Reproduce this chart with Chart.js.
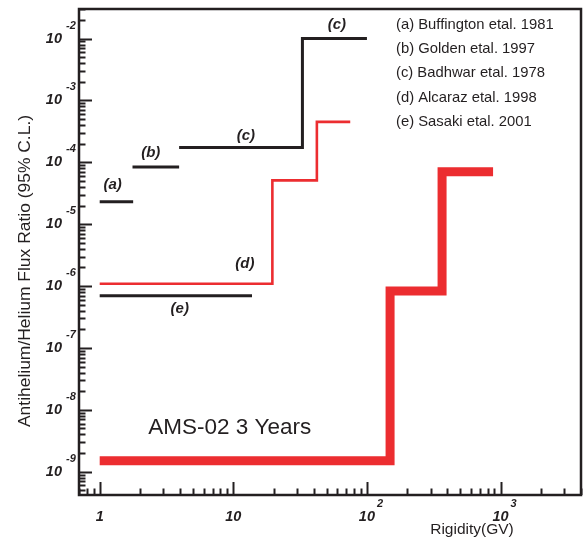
<!DOCTYPE html>
<html>
<head>
<meta charset="utf-8">
<script src="https://cdn.jsdelivr.net/npm/chart.js@4"></script>
<style>
  html, body { margin: 0; padding: 0; background: #fff; }
  #wrap { width: 586px; height: 542px; }
</style>
</head>
<body>
<div id="wrap"><canvas id="myChart" width="586" height="542"></canvas></div>
<script>
// bin edges (GV) and upper limits for each measurement
var bufEdges = [1, 1.78];
var bufVals = [2.3e-5];
var goldenEdges = [1.76, 3.93];
var goldenVals = [8.4e-5];
var badhwarEdges = [3.93, 32.9, 100];
var badhwarVals = [1.73e-4, 1.0e-2];
var alcarazEdges = [1, 19.6, 42.2, 75];
var alcarazVals = [1.09e-6, 5.1e-5, 4.5e-4];
var sasakiEdges = [1, 13.8];
var sasakiVals = [7.0e-7];
var amsEdges = [1, 149, 365, 879];
var amsVals = [1.5e-9, 8.3e-7, 7.0e-5];

var legendLines = [
    '(a) Buffington etal. 1981',
    '(b) Golden etal. 1997',
    '(c) Badhwar etal. 1978',
    '(d) Alcaraz etal. 1998',
    '(e) Sasaki etal. 2001'
];

// tag labels placed in data space
var tagText = ['(a)', '(b)', '(c)', '(c)', '(d)', '(e)'];
var tagX = [1.25, 2.41, 12.4, 59.6, 12.2, 3.97];
var tagY = [4.3e-5, 1.4e-4, 2.7e-4, 1.68e-2, 2.3e-6, 4.3e-7];

var xTickVals = [1, 10, 100, 1000];
var xTickBase = ['1', '10', '10', '10'];
var xTickExp = ['', '', '2', '3'];
var yTickVals = [1e-2, 1e-3, 1e-4, 1e-5, 1e-6, 1e-7, 1e-8, 1e-9];
var yTickExp = ['-2', '-3', '-4', '-5', '-6', '-7', '-8', '-9'];

var black = '#231f20';
var red = '#ec2d30';
var sans = '"Liberation Sans", Arial, sans-serif';

function stepPoints(edges, vals) {
    var pts = [];
    for (var i = 0; i < vals.length; i++) {
        pts.push({x: edges[i], y: vals[i]});
        pts.push({x: edges[i + 1], y: vals[i]});
    }
    return pts;
}

function stepSet(edges, vals, color, width) {
    return {
        data: stepPoints(edges, vals),
        borderColor: color,
        borderWidth: width,
        borderCapStyle: 'butt',
        borderJoinStyle: 'miter',
        pointRadius: 0,
        fill: false,
        tension: 0
    };
}

function minorTicks(min, max) {
    var out = [];
    for (var p = -12; p <= 5; p++) {
        for (var k = 1; k <= 9; k++) {
            var v = k * Math.pow(10, p);
            if (v >= min * 0.9999 && v <= max * 1.0001) out.push({v: v, major: k === 1});
        }
    }
    return out;
}

var framePlugin = {
    id: 'framePlugin',
    afterDraw: function(chart) {
        var ctx = chart.ctx;
        var a = chart.chartArea;
        var xs = chart.scales.x;
        var ys = chart.scales.y;
        ctx.save();

        // ticks (inward)
        ctx.strokeStyle = black;
        ctx.lineWidth = 2;
        var xt = minorTicks(xs.min, xs.max);
        for (var i = 0; i < xt.length; i++) {
            var px = Math.round(xs.getPixelForValue(xt[i].v)) + 0.5;
            var len = xt[i].major ? 13 : 6.5;
            ctx.beginPath();
            ctx.moveTo(px, a.bottom);
            ctx.lineTo(px, a.bottom - len);
            ctx.stroke();
        }
        var yt = minorTicks(ys.min, ys.max);
        for (var j = 0; j < yt.length; j++) {
            var py = Math.round(ys.getPixelForValue(yt[j].v)) + 0.5;
            var ylen = yt[j].major ? 13 : 6.5;
            ctx.beginPath();
            ctx.moveTo(a.left, py);
            ctx.lineTo(a.left + ylen, py);
            ctx.stroke();
        }

        // frame
        ctx.lineWidth = 2.5;
        ctx.strokeRect(a.left, a.top, a.right - a.left, a.bottom - a.top);

        // y tick labels
        ctx.fillStyle = black;
        ctx.textBaseline = 'middle';
        for (var m = 0; m < yTickVals.length; m++) {
            var ly = ys.getPixelForValue(yTickVals[m]);
            ctx.font = 'italic bold 14.5px ' + sans;
            ctx.textAlign = 'right';
            ctx.fillText('10', 62, ly);
            ctx.font = 'italic bold 11px ' + sans;
            ctx.textAlign = 'left';
            ctx.fillText(yTickExp[m], 66, ly - 13);
        }

        // x tick labels
        for (var n = 0; n < xTickVals.length; n++) {
            var lx = xs.getPixelForValue(xTickVals[n]);
            ctx.font = 'italic bold 14.5px ' + sans;
            ctx.textAlign = 'center';
            ctx.fillText(xTickBase[n], lx, 517);
            if (xTickExp[n]) {
                ctx.font = 'italic bold 11px ' + sans;
                ctx.textAlign = 'left';
                ctx.fillText(xTickExp[n], lx + 10, 504);
            }
        }

        // axis titles
        ctx.font = '15.5px ' + sans;
        ctx.textAlign = 'center';
        ctx.fillText('Rigidity(GV)', 472, 530);
        ctx.save();
        ctx.translate(26, 271);
        ctx.rotate(-Math.PI / 2);
        ctx.scale(1.09, 1);
        ctx.font = '16px ' + sans;
        ctx.fillText('Antihelium/Helium Flux Ratio (95% C.L.)', 0, 0);
        ctx.restore();

        // legend text
        ctx.font = '14.8px ' + sans;
        ctx.textAlign = 'left';
        for (var q = 0; q < legendLines.length; q++) {
            ctx.fillText(legendLines[q], 396, 25 + q * 24.2);
        }

        // tags
        ctx.font = 'italic bold 15px ' + sans;
        ctx.textAlign = 'center';
        for (var t = 0; t < tagText.length; t++) {
            ctx.fillText(tagText[t], xs.getPixelForValue(tagX[t]), ys.getPixelForValue(tagY[t]));
        }

        ctx.font = '22.5px ' + sans;
        ctx.fillText('AMS-02 3 Years', xs.getPixelForValue(9.4), ys.getPixelForValue(5.1e-9));

        ctx.restore();
    }
};

var ctx = document.getElementById('myChart').getContext('2d');
var myChart = new Chart(ctx, {
    type: 'line',
    data: {
        datasets: [
            stepSet(bufEdges, bufVals, black, 3),
            stepSet(goldenEdges, goldenVals, black, 3),
            stepSet(badhwarEdges, badhwarVals, black, 3),
            stepSet(sasakiEdges, sasakiVals, black, 3),
            stepSet(alcarazEdges, alcarazVals, red, 2.6),
            stepSet(amsEdges, amsVals, red, 9)
        ]
    },
    options: {
        responsive: false,
        animation: false,
        layout: { padding: { left: 79, right: 5, top: 9, bottom: 47 } },
        plugins: { legend: { display: false }, tooltip: { enabled: false } },
        scales: {
            x: { type: 'logarithmic', min: 0.7, max: 4000, display: false },
            y: { type: 'logarithmic', min: 4.2e-10, max: 3e-2, display: false }
        }
    },
    plugins: [framePlugin]
});
</script>
</body>
</html>
